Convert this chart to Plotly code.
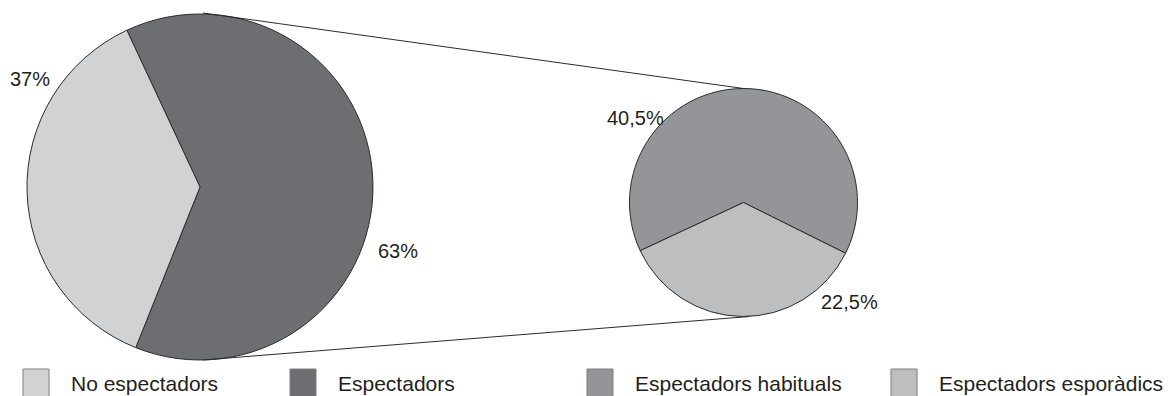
import plotly.graph_objects as go

W, H = 1172, 396

# ---- data ----
main_labels = ["Espectadors", "No espectadors"]
main_values = [63, 37]
main_colors = ["#6d6e71", "#d1d2d4"]

sub_labels = ["Espectadors habituals", "Espectadors esporàdics"]
sub_values = [40.5, 22.5]
sub_colors = ["#939598", "#bcbec0"]

legend_labels = ["No espectadors", "Espectadors", "Espectadors habituals", "Espectadors esporàdics"]
legend_colors = ["#d1d2d4", "#6d6e71", "#939598", "#bcbec0"]


def px(x):
    return x / W


def py(y):
    return 1 - y / H


def fmt(v):
    s = ("%g" % v).replace(".", ",")
    return s + "%"


FONT = "Liberation Sans, Arial, Helvetica, sans-serif"
TXT = "#231f20"

# pie geometry (pixels)
big_c, big_r = (200, 187), 173
small_c, small_r = (743.5, 202.5), 114

fig = go.Figure()
fig.add_trace(go.Pie(
    labels=main_labels, values=main_values, sort=False, direction="clockwise",
    rotation=-25, marker=dict(colors=main_colors, line=dict(color="#2b2b2b", width=1)),
    textinfo="none", hoverinfo="label+percent", showlegend=False,
    domain=dict(x=[px(big_c[0] - big_r), px(big_c[0] + big_r)],
                y=[py(big_c[1] + big_r), py(big_c[1] - big_r)]),
))
fig.add_trace(go.Pie(
    labels=sub_labels, values=sub_values, sort=False, direction="clockwise",
    rotation=245, marker=dict(colors=sub_colors, line=dict(color="#2b2b2b", width=1)),
    textinfo="none", hoverinfo="label+value", showlegend=False,
    domain=dict(x=[px(small_c[0] - small_r), px(small_c[0] + small_r)],
                y=[py(small_c[1] + small_r), py(small_c[1] - small_r)]),
))

annotations = []
# percentage labels
label_pos = {
    "No espectadors": (30, 79),
    "Espectadors": (398, 251),
    "Espectadors habituals": (635, 118),
    "Espectadors esporàdics": (849, 302),
}
for lab, val in list(zip(main_labels, main_values)) + list(zip(sub_labels, sub_values)):
    x, y = label_pos[lab]
    annotations.append(dict(x=px(x), y=py(y), xref="paper", yref="paper", text=fmt(val),
                            showarrow=False, xanchor="center", yanchor="middle",
                            font=dict(family=FONT, size=20, color=TXT)))

shapes = []
# connector lines
shapes.append(dict(type="line", xref="paper", yref="paper",
                   x0=px(big_c[0] + 3), y0=py(big_c[1] - big_r - 1),
                   x1=px(small_c[0]), y1=py(small_c[1] - small_r),
                   line=dict(color="#2b2b2b", width=1)))
shapes.append(dict(type="line", xref="paper", yref="paper",
                   x0=px(big_c[0] + 3), y0=py(big_c[1] + big_r),
                   x1=px(small_c[0] + 6), y1=py(small_c[1] + small_r),
                   line=dict(color="#2b2b2b", width=1)))

# custom legend
sq_x = [23, 290, 587, 891]
for lab, col, x0 in zip(legend_labels, legend_colors, sq_x):
    shapes.append(dict(type="rect", xref="paper", yref="paper",
                       x0=px(x0), x1=px(x0 + 26), y0=py(369), y1=py(400),
                       fillcolor=col, line=dict(color="#7f7f7f", width=1)))
    annotations.append(dict(x=px(x0 + 46), y=py(383), xref="paper", yref="paper", text=lab,
                            showarrow=False, xanchor="left", yanchor="middle",
                            font=dict(family=FONT, size=21, color=TXT)))

fig.update_layout(
    width=W, height=H, margin=dict(l=0, r=0, t=0, b=0),
    paper_bgcolor="white", plot_bgcolor="white",
    shapes=shapes, annotations=annotations, showlegend=False,
)

fig.write_html("out.html", config={"displayModeBar": False},
               post_script="document.body.style.margin='0px';")
